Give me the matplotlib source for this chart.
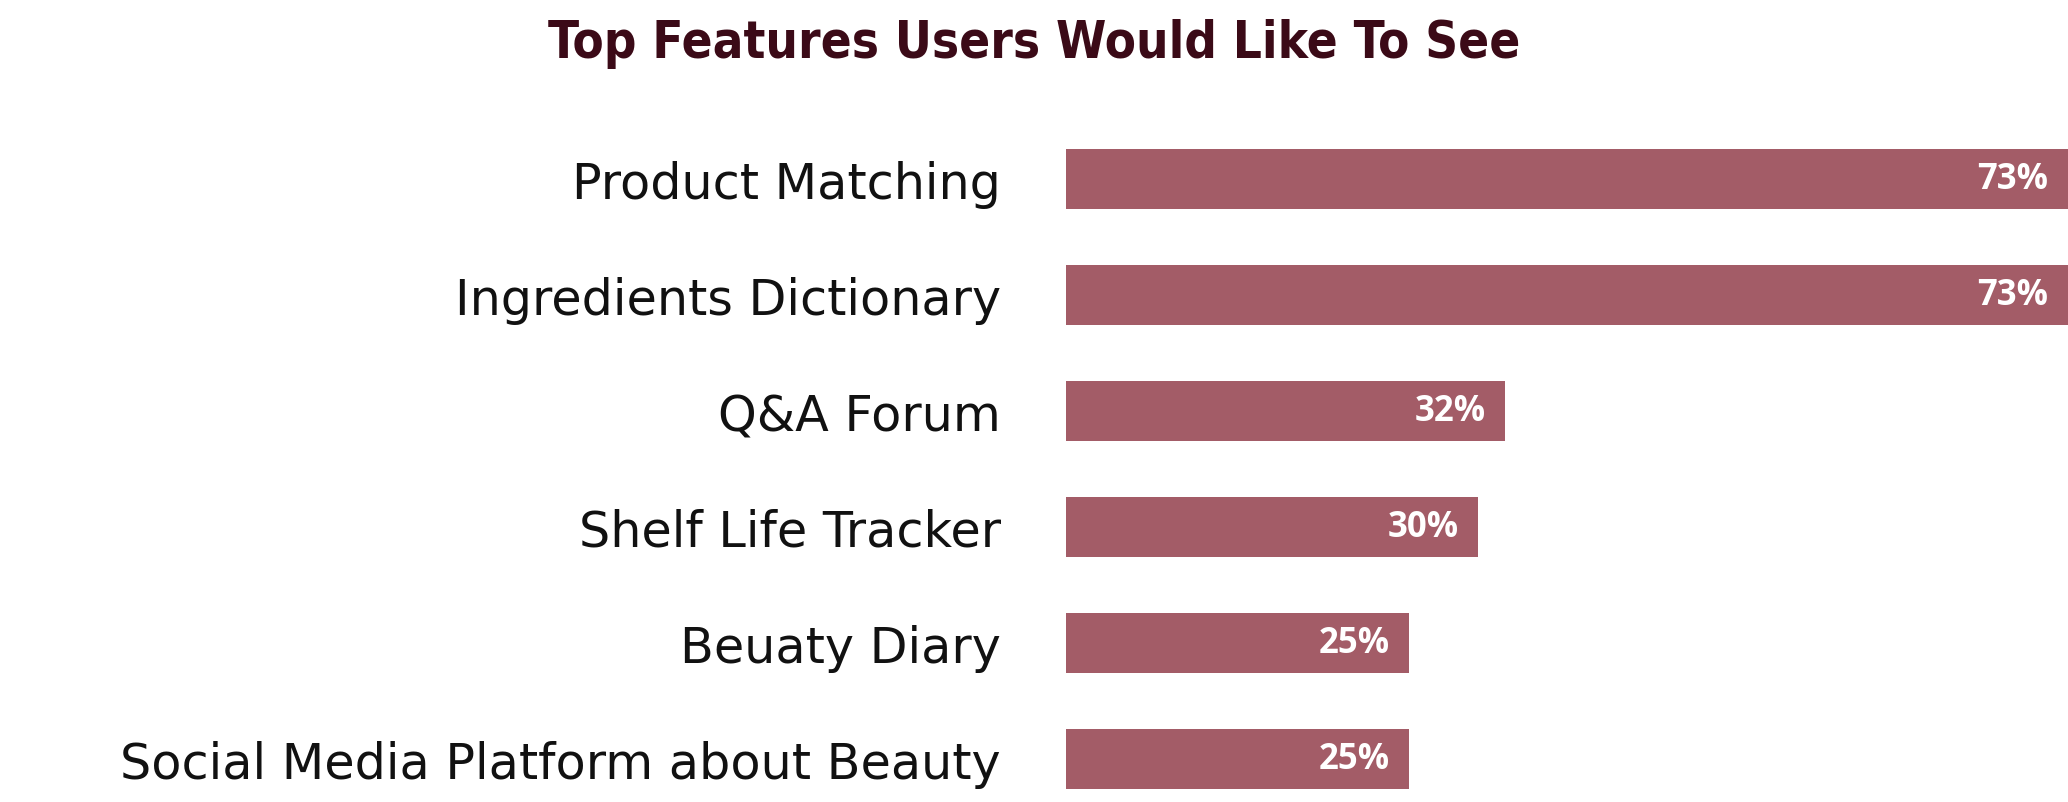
import matplotlib
matplotlib.use("Agg")
from matplotlib import pyplot as plt

# data
features = ["Product Matching", "Ingredients Dictionary", "Q&A Forum",
            "Shelf Life Tracker", "Beuaty Diary",
            "Social Media Platform about Beauty"]
percent = [73, 73, 32, 30, 25, 25]

bar_color = "#a35c67"
title_color = "#3b0a17"

W, H, DPI = 2068, 803, 100
fig = plt.figure(figsize=(W / DPI, H / DPI), dpi=DPI)

# axes placed in pixel terms: bars from x=1066 to 2068, y=150 to 790
ax = fig.add_axes([1066 / W, (H - 790) / H, 1002 / W, 640 / H])

pos = list(range(len(features)))
ax.barh(pos, percent, height=0.52, color=bar_color)
ax.set_xlim(0, max(percent))
ax.set_ylim(len(features) - 1 + 0.26, -0.26)

ax.set_yticks(pos)
ax.set_yticklabels(features, fontsize=35.5, family="DejaVu Sans", color="#111111")
ax.tick_params(axis="y", length=0, pad=47)
ax.set_xticks([])
for s in ax.spines.values():
    s.set_visible(False)

for p, v in zip(pos, percent):
    ax.annotate(f"{v}%", xy=(v, p), xytext=(-14, 0), textcoords="offset points",
                ha="right", va="center", color="white", fontsize=25,
                family="Open Sans", fontweight="bold")

fig.text(0.5, 1 - 44 / H, "Top Features Users Would Like To See",
         ha="center", va="center", fontsize=36.5, fontweight="bold",
         fontstretch="condensed", family="DejaVu Sans", color=title_color)

fig.savefig("out.png", dpi=DPI)
